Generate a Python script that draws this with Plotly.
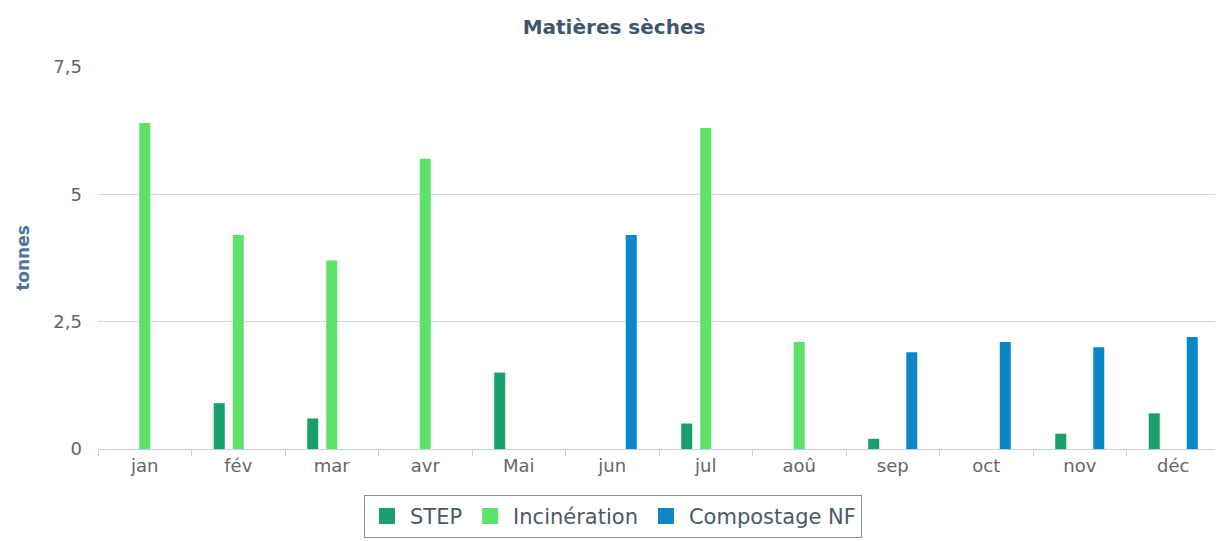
import plotly.graph_objects as go

months = ["jan", "fév", "mar", "avr", "Mai", "jun", "jul", "aoû", "sep", "oct", "nov", "déc"]
step = [0, 0.9, 0.6, 0, 1.5, 0, 0.5, 0, 0.2, 0, 0.3, 0.7]
incineration = [6.4, 4.2, 3.7, 5.7, 0, 0, 6.3, 2.1, 0, 0, 0, 0]
compostage = [0, 0, 0, 0, 0, 4.2, 0, 0, 1.9, 2.1, 2.0, 2.2]
series_names = ["STEP", "Incinération", "Compostage NF"]
colors = ["#17a06b", "#5de168", "#0b87c8"]
y_ticks = [0, 2.5, 5, 7.5]

font_family = "DejaVu Sans, Verdana, sans-serif"

fig = go.Figure()
for name, vals, col in zip(series_names, [step, incineration, compostage], colors):
    fig.add_trace(go.Bar(name=name, x=months, y=vals, marker_color=col, marker_line_width=0,
                         legendgroup=name, showlegend=False))
for name, col in zip(series_names, colors):
    fig.add_trace(go.Scatter(name=name, x=[None], y=[None], mode="markers",
                             marker=dict(symbol="square", size=18, color=col),
                             legendgroup=name, showlegend=True))

fig.update_layout(
    width=1223, height=541,
    separators=", ",
    barmode="group",
    bargap=0.39,
    bargroupgap=0.42,
    plot_bgcolor="white",
    paper_bgcolor="white",
    font=dict(family=font_family, size=18, color="#666666"),
    margin=dict(l=90, r=11, t=59, b=100, autoexpand=False),
    title=dict(text="<b>Matières sèches</b>", x=(614 - 8) / 1223, xanchor="center",
               y=1 - 19 / 541, yanchor="middle", xref="container",
               font=dict(family=font_family, size=20, color="#3E576F")),
    xaxis=dict(
        showgrid=False, showline=True, linecolor="#C0D0E0", linewidth=1,
        ticks="outside", tickson="boundaries", ticklen=6, tickcolor="#C0D0E0",
        tickfont=dict(size=18, color="#666666"), automargin=False,
    ),
    yaxis=dict(
        range=[0, 7.5], tickvals=y_ticks, ticktext=["0", "2,5", "5", "7,5"],
        showgrid=True, gridcolor="#D8D8D8", gridwidth=1, zeroline=False,
        showline=False, ticks="", ticklabelstandoff=15,
        tickfont=dict(size=18, color="#666666"), automargin=False,
        title=dict(text="<b>tonnes</b>", font=dict(size=17, color="#4D759E"), standoff=19),
    ),
    legend=dict(
        orientation="h", x=(613 - 98) / 1122, xanchor="center", y=-0.12, yanchor="top",
        bordercolor="#909090", borderwidth=1,
        font=dict(size=21, color="#4a5a6a"),
        itemsizing="trace", itemwidth=36,
    ),
)

fig.write_html("out.html")
